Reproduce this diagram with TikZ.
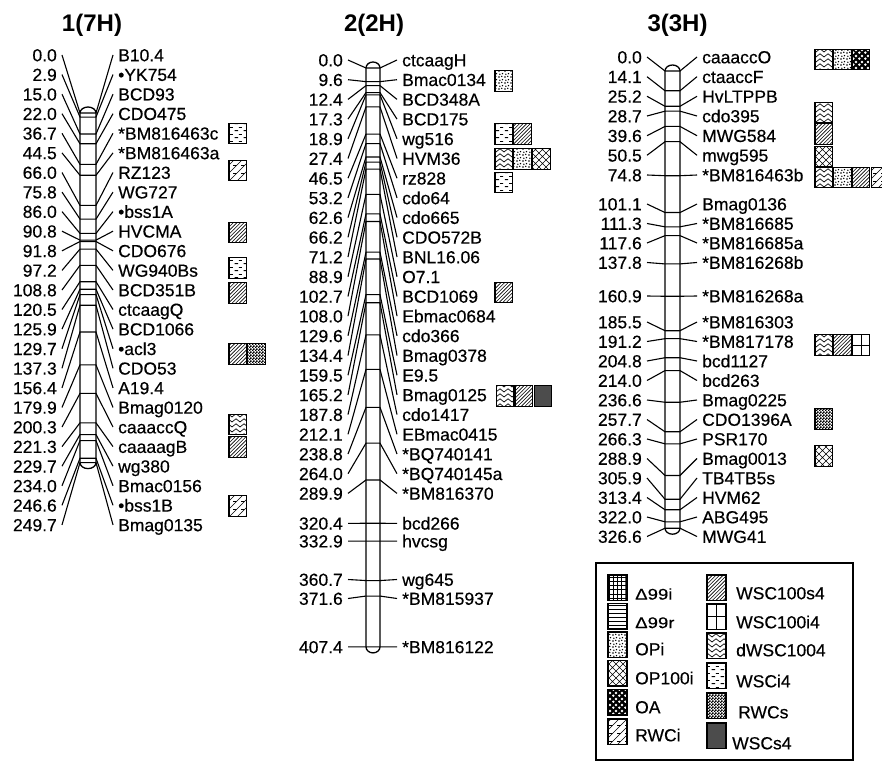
\documentclass[tikz,border=0pt]{standalone}
\usepackage{fontspec}
\setmainfont{Liberation Sans}
\usetikzlibrary{patterns}

% ---------- fill patterns ----------
\pgfdeclarepatternformonly{pHatch}{\pgfqpoint{-1pt}{-1pt}}{\pgfqpoint{5pt}{5pt}}{\pgfqpoint{3.6pt}{3.6pt}}{%
 \pgfsetlinewidth{0.6pt}\pgfpathmoveto{\pgfqpoint{0pt}{0pt}}\pgfpathlineto{\pgfqpoint{3.7pt}{3.7pt}}\pgfusepath{stroke}}
\pgfdeclarepatternformonly{pGrid}{\pgfqpoint{-0.5pt}{-0.5pt}}{\pgfqpoint{4.5pt}{4.5pt}}{\pgfqpoint{4.2pt}{4.2pt}}{%
 \pgfsetlinewidth{0.7pt}\pgfpathmoveto{\pgfqpoint{0pt}{0pt}}\pgfpathlineto{\pgfqpoint{0pt}{4.3pt}}%
 \pgfpathmoveto{\pgfqpoint{0pt}{0pt}}\pgfpathlineto{\pgfqpoint{4.3pt}{0pt}}\pgfusepath{stroke}}
\pgfdeclarepatternformonly{pHl}{\pgfqpoint{-0.5pt}{-0.7pt}}{\pgfqpoint{4.5pt}{0.7pt}}{\pgfqpoint{4pt}{4pt}}{%
 \pgfsetlinewidth{1pt}\pgfpathmoveto{\pgfqpoint{-0.5pt}{0pt}}\pgfpathlineto{\pgfqpoint{4.5pt}{0pt}}\pgfusepath{stroke}}
\pgfdeclarepatternformonly{pDots}{\pgfqpoint{0pt}{0pt}}{\pgfqpoint{6pt}{6pt}}{\pgfqpoint{6pt}{6pt}}{%
 \pgfpathcircle{\pgfqpoint{1.1pt}{1.1pt}}{0.9pt}\pgfpathcircle{\pgfqpoint{4.2pt}{1.9pt}}{0.9pt}%
 \pgfpathcircle{\pgfqpoint{2.1pt}{4.2pt}}{0.9pt}\pgfpathcircle{\pgfqpoint{5pt}{4.9pt}}{0.9pt}\pgfusepath{fill}}
\pgfdeclarepatternformonly{pCross}{\pgfqpoint{-0.5pt}{-0.5pt}}{\pgfqpoint{7.5pt}{7.5pt}}{\pgfqpoint{7pt}{7pt}}{%
 \pgfsetlinewidth{0.6pt}\pgfpathmoveto{\pgfqpoint{0pt}{0pt}}\pgfpathlineto{\pgfqpoint{7pt}{7pt}}%
 \pgfpathmoveto{\pgfqpoint{0pt}{7pt}}\pgfpathlineto{\pgfqpoint{7pt}{0pt}}\pgfusepath{stroke}}
\pgfdeclarepatternformonly{pBub}{\pgfqpoint{0pt}{0pt}}{\pgfqpoint{6pt}{6pt}}{\pgfqpoint{6pt}{6pt}}{%
 \pgfpathcircle{\pgfqpoint{1.5pt}{1.5pt}}{1.5pt}\pgfpathcircle{\pgfqpoint{4.5pt}{4.5pt}}{1.5pt}\pgfusepath{fill}}
\pgfdeclarepatternformonly{pZig}{\pgfqpoint{-0.5pt}{-0.5pt}}{\pgfqpoint{8.5pt}{4pt}}{\pgfqpoint{8pt}{5pt}}{%
 \pgfsetlinewidth{0.7pt}\pgfpathmoveto{\pgfqpoint{0pt}{0pt}}\pgfpathlineto{\pgfqpoint{4pt}{3.2pt}}%
 \pgfpathlineto{\pgfqpoint{8pt}{0pt}}\pgfusepath{stroke}}
\pgfdeclarepatternformonly{pDash}{\pgfqpoint{0pt}{0pt}}{\pgfqpoint{9pt}{7pt}}{\pgfqpoint{9pt}{7pt}}{%
 \pgfsetlinewidth{1pt}\pgfpathmoveto{\pgfqpoint{0.8pt}{1.5pt}}\pgfpathlineto{\pgfqpoint{4.3pt}{1.5pt}}%
 \pgfpathmoveto{\pgfqpoint{5.3pt}{5pt}}\pgfpathlineto{\pgfqpoint{8.5pt}{5pt}}\pgfusepath{stroke}}
\pgfdeclarepatternformonly{pChk}{\pgfqpoint{0pt}{0pt}}{\pgfqpoint{3pt}{3pt}}{\pgfqpoint{3pt}{3pt}}{%
 \pgfpathrectangle{\pgfqpoint{0pt}{0pt}}{\pgfqpoint{1.9pt}{1.9pt}}%
 \pgfpathrectangle{\pgfqpoint{1.5pt}{1.5pt}}{\pgfqpoint{1.9pt}{1.9pt}}\pgfusepath{fill}}
\pgfdeclarepatternformonly{pRw}{\pgfqpoint{-0.5pt}{-0.5pt}}{\pgfqpoint{8.5pt}{8.5pt}}{\pgfqpoint{8pt}{8pt}}{%
 \pgfsetlinewidth{0.6pt}\pgfpathmoveto{\pgfqpoint{0pt}{0pt}}\pgfpathlineto{\pgfqpoint{8pt}{8pt}}%
 \pgfpathmoveto{\pgfqpoint{1pt}{4.5pt}}\pgfpathlineto{\pgfqpoint{4pt}{4.5pt}}\pgfusepath{stroke}}

\tikzset{
 chr/.style={line width=1.3pt},
 con/.style={line width=1.1pt},
 num/.style={font=\fontsize{17.5}{19}\selectfont\addfontfeatures{FakeBold=0.4}, inner sep=0pt, text height=12.6pt, text depth=0pt, anchor=east},
 lab/.style={num, anchor=west},
 legs/.style={font=\fontsize{15.5}{18}\selectfont\addfontfeatures{FakeStretch=1.2,FakeBold=0.4}, inner sep=0pt, text height=11.2pt, text depth=0pt, anchor=west},
 ttl/.style={font=\fontsize{24}{26}\selectfont\bfseries, inner sep=0pt},
 qbox/.style={draw=black, line width=1.1pt},
 frame/.style={draw=black, line width=1.1pt},
 sD99i/.style={pattern=pGrid},
 sD99r/.style={pattern=pHl},
 sOPi/.style={pattern=pDots},
 sOP100i/.style={pattern=pCross},
 sOA/.style={preaction={fill=black}, pattern=pBub, pattern color=white},
 sRWCi/.style={pattern=pRw},
 sS4/.style={pattern=pHatch},
 sI4/.style={path picture={\draw[line width=1pt] (path picture bounding box.north) -- (path picture bounding box.south)
   (path picture bounding box.west) -- (path picture bounding box.east);}},
 sdW/.style={pattern=pZig},
 sWi4/.style={pattern=pDash},
 sRWCs/.style={pattern=pChk},
 sWs4/.style={fill=black!70},
}

% markers: #1 id, #2 bar left x, #3 bar right x, #4 y of 0 cM, #5 px per cM, #6 list cM/labely/name
\newcommand\markers[6]{%
 \foreach \mcm/\mly/\mnm [count=\k] in {#6}{%
  \pgfmathsetmacro\mmy{#4+#5*\mcm}%
  \node[num] (n#1l\k) at (#2-23,\mly) {\mcm};
  \node[lab] (n#1r\k) at (#3+22,\mly) {\mnm};
  \draw[con] ([xshift=5pt]n#1l\k.east) -- (#2,\mmy) -- (#3,\mmy) -- ([xshift=-5pt]n#1r\k.west);
 }}
\newcommand\qbx[3]{\path[qbox,#3] (#1,#2-10.25) rectangle ++(17.5,20.5);}
\newcommand\lsw[3]{\path[qbox,#3] (#1,#2) rectangle ++(19,25.5);}

\begin{document}
\begin{tikzpicture}[x=1pt,y=-1pt]
\useasboundingbox (0,0) rectangle (882,762);
\clip (0,0) rectangle (882,762);
\fill[white] (0,0) rectangle (882,762);

% ---------- titles ----------
\node[ttl] (t1) at (92,25) {1(7H)};
\node[ttl] (t2) at (374,25) {2(2H)};
\node[ttl] (t3) at (677.5,25) {3(3H)};

% ---------- chromosome 1 ----------
\draw[chr] (80,113) -- (80,462.6) arc[start angle=180,end angle=360,x radius=8pt,y radius=6pt]
  -- (96,113) arc[start angle=0,end angle=180,x radius=8pt,y radius=6pt] -- cycle;
\markers{a}{80}{96}{113}{1.40}{0.0/55/B10.4,2.9/74.6/•YK754,15.0/94.2/BCD93,22.0/113.7/CDO475,
36.7/133.3/*BM816463c,44.5/152.9/*BM816463a,66.0/172.5/RZ123,75.8/192.1/WG727,86.0/211.6/•bss1A,
90.8/231.2/HVCMA,91.8/250.8/CDO676,97.2/270.4/WG940Bs,108.8/290/BCD351B,120.5/309.5/ctcaagQ,
125.9/329.1/BCD1066,129.7/348.7/•acl3,137.3/368.3/CDO53,156.4/387.9/A19.4,179.9/407.4/Bmag0120,
200.3/427/caaaccQ,221.3/446.6/caaaagB,229.7/466.2/wg380,234.0/485.8/Bmac0156,246.6/505.3/•bss1B,
249.7/524.9/Bmag0135}

% ---------- chromosome 2 ----------
\draw[chr] (366,68) -- (366,646.9) arc[start angle=180,end angle=360,x radius=7pt,y radius=6pt]
  -- (380,68) arc[start angle=0,end angle=180,x radius=7pt,y radius=6pt] -- cycle;
\markers{b}{366}{380}{68}{1.421}{0.0/60/ctcaagH,9.6/79.7/Bmac0134,12.4/99.4/BCD348A,17.3/119.1/BCD175,
18.9/138.8/wg516,27.4/158.5/HVM36,46.5/178.2/rz828,53.2/197.9/cdo64,62.6/217.6/cdo665,
66.2/237.3/CDO572B,71.2/257/BNL16.06,88.9/276.7/O7.1,102.7/296.4/BCD1069,108.0/316.1/Ebmac0684,
129.6/335.8/cdo366,134.4/355.5/Bmag0378,159.5/375.2/E9.5,165.2/394.9/Bmag0125,187.8/414.6/cdo1417,
212.1/434.3/EBmac0415,238.8/454/*BQ740141,264.0/473.7/*BQ740145a,289.9/493.4/*BM816370,
320.4/523.3/bcd266,332.9/541.1/hvcsg,360.7/579.5/wg645,371.6/598.5/*BM815937,407.4/646.9/*BM816122}

% ---------- chromosome 3 ----------
\draw[chr] (665,71) -- (665,528.2) arc[start angle=180,end angle=360,x radius=7.5pt,y radius=6pt]
  -- (680,71) arc[start angle=0,end angle=180,x radius=7.5pt,y radius=6pt] -- cycle;
\markers{c}{665}{680}{71}{1.40}{0.0/57/caaaccO,14.1/76.7/ctaaccF,25.2/96.3/HvLTPPB,28.7/116/cdo395,
39.6/135.7/MWG584,50.5/155.3/mwg595,74.8/175/*BM816463b,101.1/204/Bmag0136,111.3/223.5/*BM816685,
117.6/243/*BM816685a,137.8/262.5/*BM816268b,160.9/296/*BM816268a,185.5/322/*BM816303,
191.2/341.5/*BM817178,204.8/361/bcd1127,214.0/380.5/bcd263,236.6/400/Bmag0225,257.7/419.5/CDO1396A,
266.3/439/PSR170,288.9/458.5/Bmag0013,305.9/478/TB4TB5s,313.4/497.5/HVM62,322.0/517/ABG495,
326.6/536.5/MWG41}

% ---------- trait boxes, chromosome 1 ----------
\qbx{229}{133.5}{sWi4}
\qbx{229}{170.5}{sRWCi}
\qbx{229}{232.5}{sS4}
\qbx{229}{268}{sWi4}
\qbx{229}{293}{sS4}
\qbx{229}{354}{sS4}\qbx{247.7}{354}{sRWCs}
\qbx{229}{424.5}{sdW}
\qbx{229}{447}{sS4}
\qbx{229}{506}{sRWCi}

% ---------- trait boxes, chromosome 2 ----------
\qbx{495}{81}{sOPi}
\qbx{495}{134}{sWi4}\qbx{513.8}{134}{sS4}
\qbx{495}{159}{sdW}\qbx{513.8}{159}{sOPi}\qbx{532.6}{159}{sOP100i}
\qbx{495}{182.5}{sWi4}
\qbx{495}{292.5}{sS4}
\qbx{496.5}{396}{sdW}\qbx{515.3}{396}{sS4}\qbx{534.1}{396}{sWs4}

% ---------- trait boxes, chromosome 3 ----------
\qbx{815}{59.5}{sdW}\qbx{833.7}{59.5}{sOPi}\qbx{852.4}{59.5}{sOA}
\qbx{815}{112.5}{sdW}
\qbx{815}{134}{sS4}
\qbx{815}{156.5}{sOP100i}
\qbx{815}{177.5}{sdW}\qbx{833.7}{177.5}{sOPi}\qbx{852.4}{177.5}{sS4}\qbx{871.1}{177.5}{sRWCi}
\qbx{815}{345}{sdW}\qbx{833.7}{345}{sS4}\qbx{852.4}{345}{sI4}
\qbx{815}{419}{sRWCs}
\qbx{815}{456}{sOP100i}

% ---------- legend ----------
\path[frame] (596,563) rectangle (853,760);
\lsw{608}{575}{sD99i}\lsw{608}{603.5}{sD99r}\lsw{608}{632}{sOPi}
\lsw{608}{660.5}{sOP100i}\lsw{608}{689.5}{sOA}\lsw{608}{719}{sRWCi}
\lsw{707}{575}{sS4}\lsw{707}{604}{sI4}\lsw{707}{633}{sdW}
\lsw{707}{663}{sWi4}\lsw{707}{693}{sRWCs}\lsw{707}{723}{sWs4}
\node[legs] (g1) at (635,594) {Δ99i};
\node[legs] (g2) at (635,622.5) {Δ99r};
\node[lab] (g3) at (635,649) {OPi};
\node[lab] (g4) at (635,678) {OP100i};
\node[lab] (g5) at (635,707) {OA};
\node[lab] (g6) at (635,735) {RWCi};
\node[lab] (g7) at (736,593) {WSC100s4};
\node[lab] (g8) at (736,622) {WSC100i4};
\node[lab] (g9) at (736,650) {dWSC1004};
\node[lab] (g10) at (736,681) {WSCi4};
\node[lab] (g11) at (738,712) {RWCs};
\node[lab] (g12) at (732,743) {WSCs4};
\end{tikzpicture}
\end{document}
